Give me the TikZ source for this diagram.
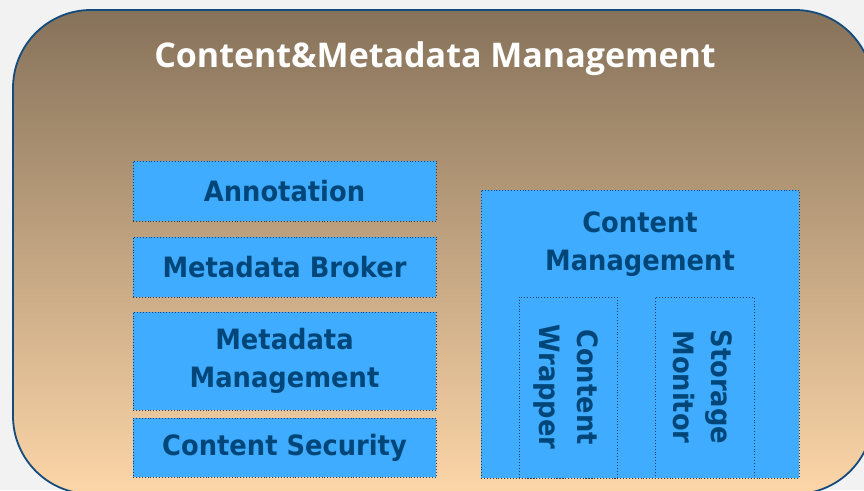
\documentclass[tikz,border=0pt]{standalone}
\usepackage{fontspec}
\setmainfont{DejaVu Sans}
\newfontfamily\titlefont{Open Sans}
\newfontfamily\boxfont{DejaVu Sans}[FakeStretch=0.92]
\definecolor{bgc}{RGB}{242,242,242}
\definecolor{topc}{RGB}{134,114,90}
\definecolor{botc}{RGB}{253,214,168}
\definecolor{edgec}{RGB}{20,75,125}
\definecolor{boxc}{RGB}{64,172,255}
\definecolor{txtc}{RGB}{0,70,120}
\definecolor{dotc}{RGB}{30,60,100}
\tikzset{
  compbox/.style={draw=dotc, dotted, line width=0.9pt, fill=boxc},
  lbl/.style={text=txtc, font=\boxfont\bfseries\fontsize{28}{38}\selectfont, align=center, inner sep=0pt},
}
\begin{document}
\begin{tikzpicture}[x=1pt,y=1pt]
\useasboundingbox (0,0) rectangle (864,490);
\fill[bgc] (0,0) rectangle (864,490);
\begin{scope}
\clip (0,0) rectangle (864,490);
\path[draw=edgec, line width=1.8pt, rounded corners=78pt, top color=topc, bottom color=botc] (13,-4) rectangle (873,480);
\end{scope}
\node[anchor=base, text=white, font=\titlefont\bfseries\fontsize{34}{40}\selectfont] (title) at (435,422) {Content\&Metadata Management};
% left column
\node[compbox, minimum width=303pt, minimum height=60pt] (ann) at (284.5,299) {};
\node[lbl] (annt) at (ann) {Annotation};
\node[compbox, minimum width=303pt, minimum height=60pt] (brk) at (284.5,223) {};
\node[lbl] (brkt) at (brk) {Metadata Broker};
\node[compbox, minimum width=303pt, minimum height=98pt] (mdm) at (284.5,129) {};
\node[lbl] (mdmt) at (mdm) {Metadata\\Management};
\node[compbox, minimum width=303pt, minimum height=59pt] (sec) at (284.5,42.5) {};
\node[lbl] (sect) at (sec) {Content Security};
% right block
\node[compbox, minimum width=318pt, minimum height=288pt] (cm) at (640,156) {};
\node[lbl] (cmt) at (640,246) {Content\\Management};
\node[compbox, minimum width=98pt, minimum height=181pt] (cw) at (568,102.5) {};
\node[lbl, rotate=-90] (cwt) at (566,103) {Content\\Wrapper};
\node[compbox, minimum width=99pt, minimum height=181pt] (sm) at (704.5,102.5) {};
\node[lbl, rotate=-90] (smt) at (703,103) {Storage\\Monitor};
\end{tikzpicture}
\end{document}
